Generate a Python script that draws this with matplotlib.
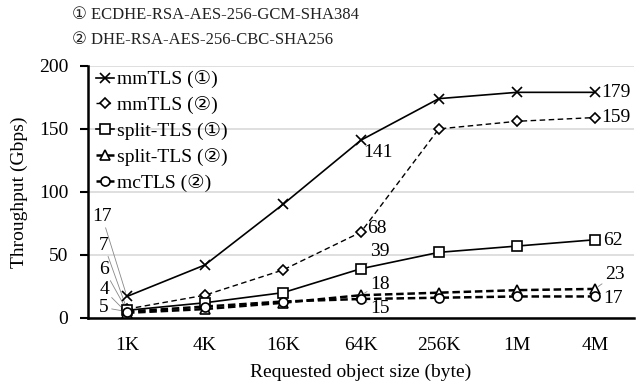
import matplotlib
matplotlib.use("Agg")
import matplotlib.pyplot as plt

plt.rcParams['font.family'] = ['Liberation Serif', 'DejaVu Sans']

# data
sizes = ['1K', '4K', '16K', '64K', '256K', '1M', '4M']
mmtls_1 = [17, 42, 90, 141, 174, 179, 179]
mmtls_2 = [7, 18, 38, 68, 150, 156, 159]
split_1 = [6, 12, 20, 39, 52, 57, 62]
split_2 = [4, 7, 12, 18, 20, 22, 23]
mctls_2 = [5, 9, 13, 15, 16, 17, 17]

x = list(range(len(sizes)))

fig = plt.figure(figsize=(6.37, 3.83), dpi=100)
ax = fig.add_axes([0.138, 0.170, 0.857, 0.658])

ax.plot(x, mmtls_1, color='black', lw=1.2, marker='x', ms=6.5, mew=1.2,
        label='mmTLS (①)', zorder=5)
ax.plot(x, mmtls_2, color='black', lw=1.0, ls=(0, (4, 2.5)), marker='D', ms=5,
        mfc='white', mew=1.2, label='mmTLS (②)', zorder=5)
ax.plot(x, split_1, color='black', lw=1.2, marker='s', ms=6.5,
        mfc='white', mew=1.2, label='split-TLS (①)', zorder=5)
ax.plot(x, split_2, color='black', lw=1.8, ls=(0, (3, 1.5)), marker='^', ms=6.5,
        mfc='white', mew=1.2, label='split-TLS (②)', zorder=5)
ax.plot(x, mctls_2, color='black', lw=1.8, ls=(0, (3, 1.5)), marker='o', ms=6.5,
        mfc='white', mew=1.2, label='mcTLS (②)', zorder=5)

ax.set_xlim(-0.5, 6.5)
ax.set_ylim(0, 200)
ax.set_yticks([0, 50, 100, 150, 200])
ax.set_xticks(x)
ax.set_xticklabels(sizes)
ax.tick_params(axis='x', length=0, labelsize=14, pad=14)
ax.tick_params(axis='y', length=6, width=1.5, labelsize=14, pad=8)
ax.grid(axis='y', color='#d9d9d9', lw=1.2)
ax.set_axisbelow(True)
for s in ['top', 'right']:
    ax.spines[s].set_visible(False)
ax.spines['left'].set_linewidth(1.8)
ax.spines['bottom'].set_linewidth(1.8)

ax.set_xlabel('Requested object size (byte)', fontsize=14, labelpad=7)
ax.set_ylabel('Throughput (Gbps)', fontsize=14, labelpad=8)

leg = ax.legend(loc='upper left', bbox_to_anchor=(0.015, 0.982), frameon=False,
                fontsize=14, handlelength=0.9, handletextpad=0.15,
                labelspacing=0.40, borderaxespad=0, borderpad=0)

# value labels
lead = dict(arrowstyle='-', color='#888888', lw=0.6, shrinkA=0, shrinkB=3)
fs = 14
ax.annotate(str(mmtls_1[0]), (0, mmtls_1[0]), xytext=(-15, 80), textcoords='offset pixels',
            ha='right', va='center', fontsize=fs, arrowprops=lead)
ax.annotate(str(mmtls_2[0]), (0, mmtls_2[0]), xytext=(-18, 64), textcoords='offset pixels',
            ha='right', va='center', fontsize=fs, arrowprops=lead)
ax.annotate(str(split_1[0]), (0, split_1[0]), xytext=(-18, 41), textcoords='offset pixels',
            ha='right', va='center', fontsize=fs, arrowprops=lead)
ax.annotate(str(split_2[0]), (0, split_2[0]), xytext=(-18, 23), textcoords='offset pixels',
            ha='right', va='center', fontsize=fs, arrowprops=lead)
ax.annotate(str(mctls_2[0]), (0, mctls_2[0]), xytext=(-18, 4), textcoords='offset pixels',
            ha='right', va='center', fontsize=fs, arrowprops=lead)

ax.annotate(str(mmtls_1[3]), (3, mmtls_1[3]), xytext=(2, -12), textcoords='offset pixels',
            ha='left', va='center', fontsize=fs)
ax.annotate(str(mmtls_2[3]), (3, mmtls_2[3]), xytext=(6, 4), textcoords='offset pixels',
            ha='left', va='center', fontsize=fs)
ax.annotate(str(split_1[3]), (3, split_1[3]), xytext=(9, 17), textcoords='offset pixels',
            ha='left', va='center', fontsize=fs, arrowprops=lead)
ax.annotate(str(split_2[3]), (3, split_2[3]), xytext=(9, 11), textcoords='offset pixels',
            ha='left', va='center', fontsize=fs, arrowprops=lead)
ax.annotate(str(mctls_2[3]), (3, mctls_2[3]), xytext=(9, -10), textcoords='offset pixels',
            ha='left', va='center', fontsize=fs, arrowprops=lead)

ax.annotate(str(mmtls_1[6]), (6, mmtls_1[6]), xytext=(6, 0), textcoords='offset pixels',
            ha='left', va='center', fontsize=fs)
ax.annotate(str(mmtls_2[6]), (6, mmtls_2[6]), xytext=(6, 0), textcoords='offset pixels',
            ha='left', va='center', fontsize=fs)
ax.annotate(str(split_1[6]), (6, split_1[6]), xytext=(8, -1), textcoords='offset pixels',
            ha='left', va='center', fontsize=fs)
ax.annotate(str(split_2[6]), (6, split_2[6]), xytext=(10, 14), textcoords='offset pixels',
            ha='left', va='center', fontsize=fs, arrowprops=lead)
ax.annotate(str(mctls_2[6]), (6, mctls_2[6]), xytext=(8, -2), textcoords='offset pixels',
            ha='left', va='center', fontsize=fs)

# cipher suite notes
fig.text(72 / 637, 1 - 15 / 383, '① ECDHE-RSA-AES-256-GCM-SHA384', fontsize=12,
         va='center', ha='left', color='#222222')
fig.text(72 / 637, 1 - 40 / 383, '② DHE-RSA-AES-256-CBC-SHA256', fontsize=12,
         va='center', ha='left', color='#222222')

plt.savefig('out.png', dpi=100)
